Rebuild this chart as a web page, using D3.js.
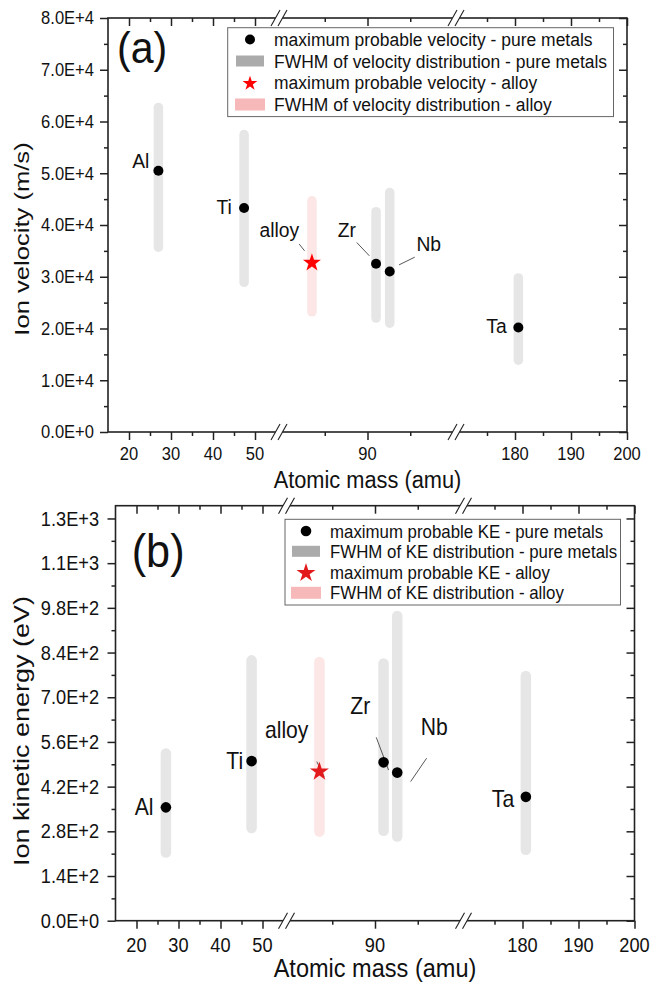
<!DOCTYPE html>
<html><head><meta charset="utf-8">
<script src="https://cdn.jsdelivr.net/npm/d3@7"></script>
<style>
body{margin:0;background:#fff;}
svg{display:block;}
text{font-family:"Liberation Sans",Arial,sans-serif;fill:#111;}
</style>
</head><body>
<svg id="c" width="655" height="982"></svg>
<script>
// ---------------- data ----------------
const elements   = ["Al", "Ti", "Zr", "Nb", "Ta"];
const atomicMass = [27.0, 47.4, 91.0, 92.6, 180.6];
const alloyName  = "alloy";
const alloyMass  = 83.5;

// panel (a): velocity, m/s
const velPeak = [50500, 43300, 32500, 31000, 20200];
const velLow  = [34800, 28000, 21100, 20100, 12950];
const velHigh = [63600, 58400, 43500, 47200, 30700];
const alloyVel = [32700, 22300, 45600];   // peak, low, high

// panel (b): kinetic energy, eV
const kePeak = [355, 500, 496, 464, 388];
const keLow  = [197, 274, 265, 247, 206];
const keHigh = [540, 832, 822, 971, 783];
const alloyKE = [467, 263, 827];          // peak, low, high

// axes
const xBreakDomain = [15, 55, 80, 100, 170, 200];
const xMajorTicks  = [20, 30, 40, 50, 90, 180, 190, 200];
const xMinorTicks  = [25, 35, 45, 85, 95, 175, 185, 195];
const velTicks      = [0, 10000, 20000, 30000, 40000, 50000, 60000, 70000, 80000];
const velMinorTicks = [5000, 15000, 25000, 35000, 45000, 55000, 65000, 75000];
const keTicks       = [0, 140, 280, 420, 560, 700, 840, 980, 1120, 1260];
const keMinorTicks  = [70, 210, 350, 490, 630, 770, 910, 1050, 1190];

const legendA = ["maximum probable velocity - pure metals",
                 "FWHM of velocity distribution - pure metals",
                 "maximum probable velocity - alloy",
                 "FWHM of velocity distribution - alloy"];
const legendB = ["maximum probable KE - pure metals",
                 "FWHM of KE distribution - pure metals",
                 "maximum probable KE - alloy",
                 "FWHM of KE distribution - alloy"];

// ---------------- drawing ----------------
const svg = d3.select("#c");
const SX = 0.92;
function txt(g, x, y, s, size, anchor, rot, sx) {
  return g.append("text")
    .attr("transform", `translate(${x},${y}) scale(${sx || SX},1)` + (rot ? ` rotate(${rot})` : ""))
    .attr("font-size", size)
    .attr("text-anchor", anchor || "start")
    .text(s);
}
function sci(v) {
  if (v === 0) return "0.0E+0";
  const e = Math.floor(Math.log10(v) + 1e-9);
  return (v / Math.pow(10, e)).toFixed(1) + "E+" + e;
}

function drawPanel(p) {
  const g = svg.append("g");
  const offs = [0, 168, 174, 345, 351, 519];
  const x = d3.scaleLinear().domain(xBreakDomain).range(offs.map(o => p.left + o));
  const y = d3.scaleLinear().domain([0, p.yMax]).range([p.top + p.height, p.top]);
  const bottom = p.top + p.height, right = p.left + p.width;

  // FWHM bars
  const bw = p.barW;
  g.selectAll("rect.bar").data(elements).join("rect").attr("class", "bar")
    .attr("x", (d, i) => x(atomicMass[i]) - bw / 2)
    .attr("y", (d, i) => y(p.high[i]))
    .attr("width", bw)
    .attr("height", (d, i) => y(p.low[i]) - y(p.high[i]))
    .attr("rx", bw / 2).attr("fill", "#e6e6e6");
  g.append("rect")
    .attr("x", x(alloyMass) - bw / 2).attr("y", y(p.alloy[2]))
    .attr("width", bw).attr("height", y(p.alloy[1]) - y(p.alloy[2]))
    .attr("rx", bw / 2).attr("fill", "#fde6e6");

  // leader lines
  const lab = p.labels;
  const pts = elements.map((d, i) => [x(atomicMass[i]), y(p.peak[i])]);
  const apt = [x(alloyMass), y(p.alloy[0])];
  lab.forEach(L => {
    if (!L.line) return;
    const c = L.name === alloyName ? apt : pts[elements.indexOf(L.name)];
    g.append("line")
      .attr("x1", c[0] + L.line[0]).attr("y1", c[1] + L.line[1])
      .attr("x2", c[0] + L.line[2]).attr("y2", c[1] + L.line[3])
      .attr("stroke", "#444").attr("stroke-width", 0.9);
  });

  // points
  g.selectAll("circle.pt").data(elements).join("circle").attr("class", "pt")
    .attr("cx", (d, i) => pts[i][0]).attr("cy", (d, i) => pts[i][1])
    .attr("r", p.dotR).attr("fill", "#000");
  g.append("path").attr("d", d3.symbol(d3.symbolStar, p.starSize)())
    .attr("transform", `translate(${apt[0]},${apt[1]})`).attr("fill", p.starColor);

  // labels
  lab.forEach(L => {
    const c = L.name === alloyName ? apt : pts[elements.indexOf(L.name)];
    txt(g, c[0] + L.dx, c[1] + L.dy, L.name, p.labelSize, L.anchor);
  });

  // axes ticks
  const tk = (axis, tv, size) => axis.tickValues(tv).tickSize(size).tickFormat("");
  const ax = [
    [d3.axisBottom(x), xMajorTicks, 8, `translate(0,${bottom})`],
    [d3.axisBottom(x), xMinorTicks, 4, `translate(0,${bottom})`],
    [d3.axisTop(x), xMajorTicks, -8, `translate(0,${p.top})`],
    [d3.axisTop(x), xMinorTicks, -4, `translate(0,${p.top})`],
    [d3.axisLeft(y), p.yTicks, 8, `translate(${p.left},0)`],
    [d3.axisLeft(y), p.yMinor, 4, `translate(${p.left},0)`],
    [d3.axisRight(y), p.yTicks, -8, `translate(${right},0)`],
    [d3.axisRight(y), p.yMinor, -4, `translate(${right},0)`]
  ];
  ax.forEach(a => {
    const ag = g.append("g").attr("transform", a[3]).call(tk(a[0], a[1], a[2]));
    ag.select(".domain").remove();
    ag.selectAll("line").attr("stroke", "#222").attr("stroke-width", 1.5);
  });

  // frame
  g.append("rect").attr("x", p.left).attr("y", p.top).attr("width", p.width).attr("height", p.height)
    .attr("fill", "none").attr("stroke", "#222").attr("stroke-width", 1.6);

  // breaks
  [(offs[1] + offs[2]) / 2, (offs[3] + offs[4]) / 2].forEach(o => {
    const cx = p.left + o;
    [p.top, bottom].forEach(yy => {
      g.append("polygon")
        .attr("points", [[cx - 8, yy + 8], [cx + 1, yy - 8], [cx + 8, yy - 8], [cx - 1, yy + 8]].map(q => q.join(",")).join(" "))
        .attr("fill", "#fff");
      [-3.5, 3.5].forEach(d => {
        g.append("line")
          .attr("x1", cx + d - 4.5).attr("y1", yy + 8).attr("x2", cx + d + 4.5).attr("y2", yy - 8)
          .attr("stroke", "#222").attr("stroke-width", 1.1);
      });
    });
  });

  // tick labels
  xMajorTicks.forEach(v => txt(g, x(v), bottom + p.xLabOff, String(v), p.tickSize, "middle"));
  p.yTicks.forEach(v => txt(g, p.left - p.yLabOff, y(v) + 0.36 * p.tickSize, sci(v), p.tickSize, "end"));

  // titles
  txt(g, (p.left + right) / 2, bottom + 56, "Atomic mass (amu)", p.xTitleSize, "middle");
  txt(g, 29, p.yTitleY, p.yTitle, p.yTitleSize, "middle", -90, p.yTitleSX);
  txt(g, p.tagX, p.tagY, p.tag, p.tagSize, "start");

  // legend
  const Lg = p.legend;
  g.append("rect").attr("x", Lg.x0).attr("y", Lg.y0).attr("width", Lg.x1 - Lg.x0).attr("height", Lg.y1 - Lg.y0)
    .attr("fill", "#fff").attr("stroke", "#666").attr("stroke-width", 1);
  g.append("circle").attr("cx", Lg.symX).attr("cy", Lg.rows[0]).attr("r", p.dotR).attr("fill", "#000");
  g.append("rect").attr("x", Lg.symX - 14).attr("y", Lg.rows[1] - 5.5).attr("width", 28).attr("height", 11).attr("fill", "#ababab");
  g.append("path").attr("d", d3.symbol(d3.symbolStar, Lg.starSize)())
    .attr("transform", `translate(${Lg.symX},${Lg.rows[2] + 1})`).attr("fill", p.starColor);
  g.append("rect").attr("x", Lg.symX - 15).attr("y", Lg.rows[3] - 6).attr("width", 30).attr("height", 12).attr("fill", "#f6b8b9");
  p.legendText.forEach((s, i) => txt(g, Lg.textX, Lg.rows[i] + 0.36 * Lg.size, s, Lg.size, "start"));
}

drawPanel({
  left: 108, top: 18, width: 519, height: 414, yMax: 80000,
  yTicks: velTicks, yMinor: velMinorTicks,
  peak: velPeak, low: velLow, high: velHigh, alloy: alloyVel,
  barW: 9.5, dotR: 5, starSize: 100, starColor: "#ff0000",
  tickSize: 18, xLabOff: 28, yLabOff: 14, xTitleSize: 23.7, labelSize: 21,
  yTitle: "Ion velocity (m/s)", yTitleSize: 25.6, yTitleSX: 0.76, yTitleY: 239,
  tag: "(a)", tagX: 117, tagY: 62.6, tagSize: 44.7,
  legendText: legendA,
  legend: {x0: 227.7, y0: 27.7, x1: 613.5, y1: 116.6, rows: [39.5, 61, 82.5, 104.5], symX: 250, textX: 274, size: 19, starSize: 68},
  labels: [
    {name: "Al", dx: -9, dy: -3, anchor: "end"},
    {name: "Ti", dx: -12.3, dy: 6, anchor: "end"},
    {name: "alloy", dx: -12.7, dy: -26, anchor: "end", line: [-12.7, -18.7, -7.4, -12]},
    {name: "Zr", dx: -20, dy: -27.3, anchor: "end", line: [-19.3, -21.3, -6.7, -8]},
    {name: "Nb", dx: 26.7, dy: -20.7, anchor: "start", line: [25, -14.4, 9.3, -6.7]},
    {name: "Ta", dx: -11.6, dy: 5.4, anchor: "end"}
  ]
});

drawPanel({
  left: 115.5, top: 505.7, width: 519, height: 415, yMax: 1300,
  yTicks: keTicks, yMinor: keMinorTicks,
  peak: kePeak, low: keLow, high: keHigh, alloy: alloyKE,
  barW: 10.5, dotR: 5.3, starSize: 112, starColor: "#e31a1c",
  tickSize: 19.8, xLabOff: 31, yLabOff: 16.4, xTitleSize: 25.6, labelSize: 23,
  yTitle: "Ion kinetic energy (eV)", yTitleSize: 27, yTitleSX: 0.79, yTitleY: 731,
  tag: "(b)", tagX: 131.7, tagY: 567, tagSize: 47,
  legendText: legendB,
  legend: {x0: 285, y0: 519.3, x1: 620.5, y1: 605, rows: [531, 551.3, 572, 592.8], symX: 306, textX: 330, size: 18.3, starSize: 112},
  labels: [
    {name: "Al", dx: -12.4, dy: 7.7, anchor: "end"},
    {name: "Ti", dx: -8.4, dy: 8.3, anchor: "end"},
    {name: "alloy", dx: -11, dy: -33.4, anchor: "end", line: [-2.6, -10, 4.7, 5]},
    {name: "Zr", dx: -13.3, dy: -48.3, anchor: "end", line: [-7.3, -25, 5, 7.7]},
    {name: "Nb", dx: 23.4, dy: -37.7, anchor: "start", line: [29.4, -14.4, 13.4, 9]},
    {name: "Ta", dx: -11.7, dy: 10, anchor: "end"}
  ]
});
</script>
</body></html>
